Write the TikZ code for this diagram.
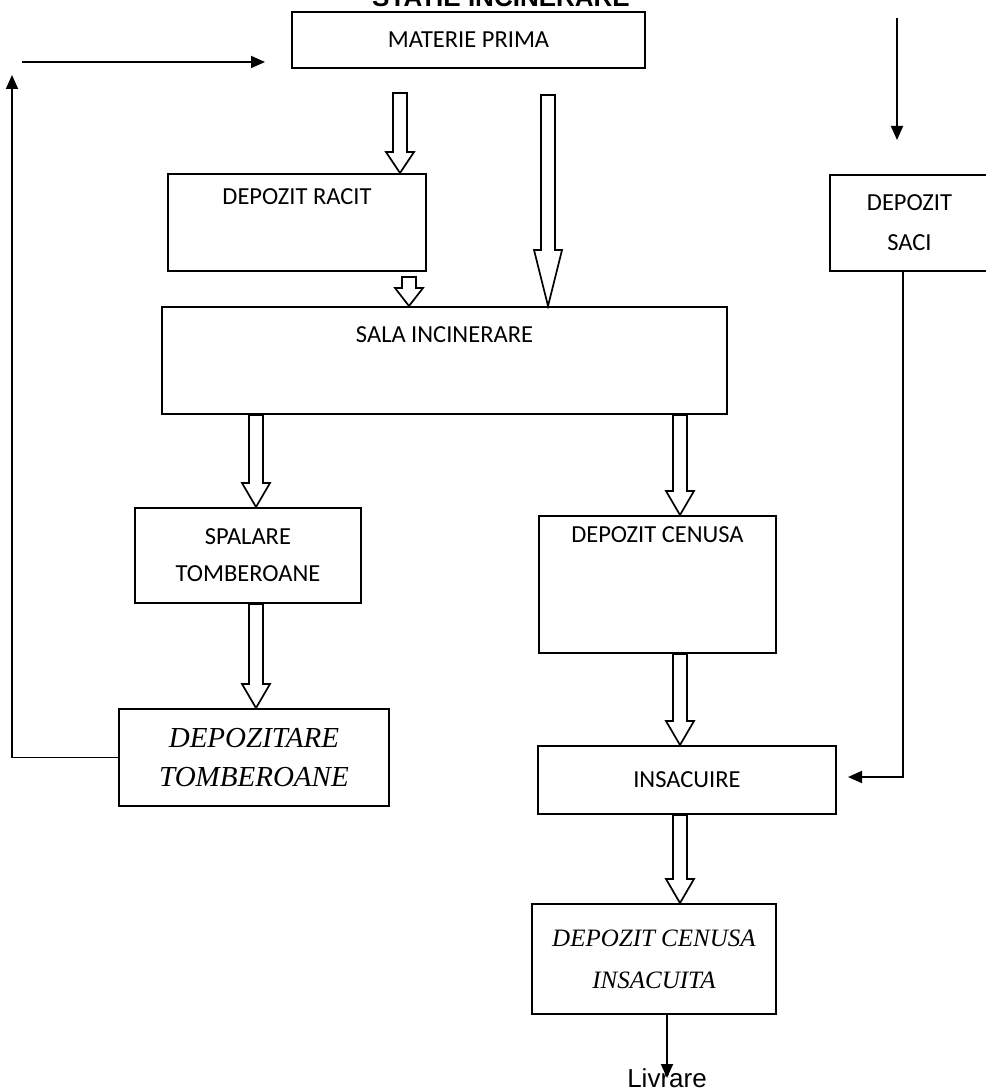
\documentclass[tikz,border=0pt]{standalone}
\usepackage{fontspec}
\setmainfont{Carlito}
\newfontfamily\timesit{Liberation Serif}
\newfontfamily\arialsf{Liberation Sans}
\usetikzlibrary{arrows.meta,calc}

\begin{document}
\begin{tikzpicture}[x=1pt,y=-1pt,
box/.style={draw, rectangle, line width=1.9pt, inner xsep=0pt, inner ysep=0pt, align=center, font=\fontsize{24.5}{39}\selectfont},
itbox/.style={box, font=\timesit\itshape\fontsize{29}{39}\selectfont},
hollow/.style={line width=1.7pt, to path={let \p1=(\tikztostart), \p2=(\tikztotarget) in (\x1-7pt,\y1) -- (\x1-7pt,\y2+#1) -- (\x1-14pt,\y2+#1) -- (\x1,\y2) -- (\x1+14pt,\y2+#1) -- (\x1+7pt,\y2+#1) -- (\x1+7pt,\y1) -- cycle}},
hollow/.default=24pt,
feed/.style={line width=1.8pt, -{Triangle[length=14pt,width=12pt]}}]
\useasboundingbox (0,0) rectangle (985,1091);

\node (title)[anchor=base, font=\arialsf\bfseries\fontsize{26}{30}\selectfont] at (501,7) {STATIE INCINERARE};
\node (materie)[box, minimum width=353pt, minimum height=56pt] at (468.5,40) {MATERIE PRIMA};
\node (racit)[box, anchor=north, minimum width=258pt, text height=31pt, text depth=66pt] at (297,173) {DEPOZIT RACIT};
\node (saci)[box, anchor=north west, minimum width=159pt, minimum height=96pt, font=\fontsize{24.5}{40}\selectfont] at (829,174) {DEPOZIT\\SACI};
\node (sala)[box, anchor=north, minimum width=565pt, text height=36pt, text depth=71pt] at (444.5,306) {SALA INCINERARE};
\node (spalare)[box, anchor=north west, minimum width=226pt, minimum height=95pt, font=\fontsize{24.5}{37}\selectfont] at (134,507) {SPALARE\\TOMBEROANE};
\node (cenusa)[box, anchor=north west, minimum width=237pt, text height=27pt, text depth=110pt] at (538,515) {DEPOZIT CENUSA};
\node (insac)[box, anchor=north west, minimum width=298pt, minimum height=68pt] at (537,745) {INSACUIRE};
\node (tomb)[itbox, anchor=north west, minimum width=270pt, minimum height=97pt] at (118,708) {DEPOZITARE\\TOMBEROANE};
\node (insacuita)[itbox, anchor=north west, minimum width=244pt, minimum height=110pt, font=\timesit\itshape\fontsize{25}{42}\selectfont] at (531,903) {DEPOZIT CENUSA\\INSACUITA};
\node (livrare)[font=\arialsf\fontsize{26}{30}\selectfont] at (667,1078) {Livrare};

\coordinate (racitcol) at (400,93);
\coordinate (salacol) at (409,277);
\coordinate (bigcol) at (548,95);
\coordinate (lcol) at (256,0);
\coordinate (rcol) at (680,0);
\draw[hollow=21pt] (racitcol) to (racit.north -| racitcol);
\draw[hollow=18pt] (salacol) to (sala.north -| salacol);
\draw[hollow=56pt] (bigcol) to (sala.north -| bigcol);
\draw[hollow] (sala.south -| lcol) to (spalare.north -| lcol);
\draw[hollow] (sala.south -| rcol) to (cenusa.north -| rcol);
\draw[hollow] (spalare.south -| lcol) to (tomb.north -| lcol);
\draw[hollow] (cenusa.south -| rcol) to (insac.north -| rcol);
\draw[hollow] (insac.south -| rcol) to (insacuita.north -| rcol);

\coordinate (sacitop) at (897,18);
\coordinate (sacitip) at (897,140);
\coordinate (saciturn) at (903,777);
\coordinate (insactip) at (848,777);
\coordinate (looptip) at (12,75);
\coordinate (retstart) at (22,62);
\coordinate (rettip) at (265,62);
\draw[feed] (sacitop) -- (sacitip);
\draw[feed] (saci.south -| saciturn) |- (insactip);
\draw[feed] (tomb.west) -| (looptip);
\draw[feed] (retstart) -- (rettip);
\draw[feed] (insacuita.south -| livrare) -- (livrare.center);
\end{tikzpicture}
\end{document}
